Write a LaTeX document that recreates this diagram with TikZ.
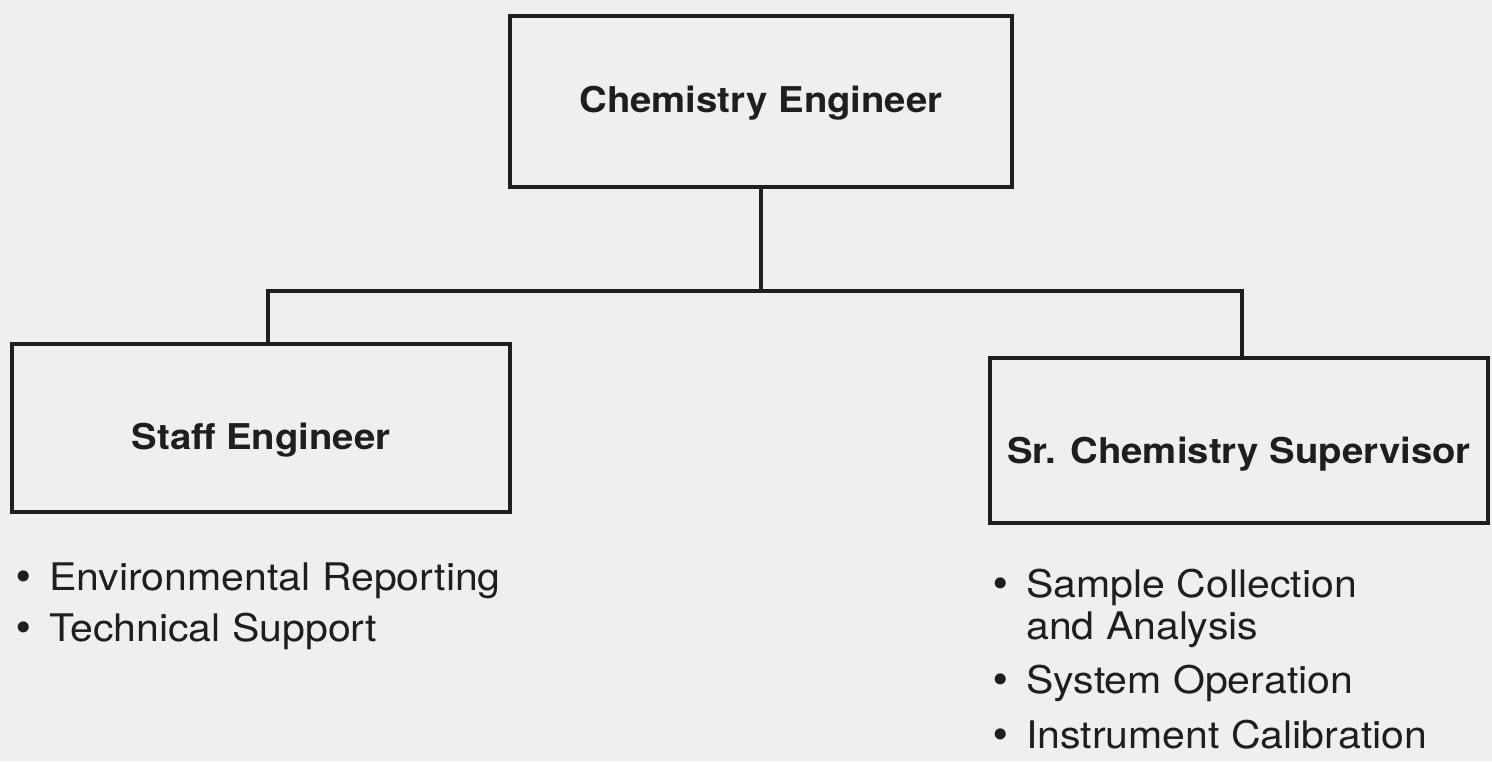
\documentclass[tikz,border=0pt]{standalone}
\usepackage{fontspec}
\setmainfont{TeX Gyre Heros}[FakeStretch=1.08]
\newfontfamily\dotfont{DejaVu Sans}
\begin{document}
\definecolor{paper}{HTML}{EFEFEF}
\definecolor{ink}{HTML}{1E1E1E}
\newcommand\bulletbox{\makebox[36pt][l]{\hspace{-1pt}{\dotfont •}}}
\begin{tikzpicture}[x=1pt,y=-1pt,
  orgbox/.style={draw=ink, line width=4.3pt, inner sep=0pt, text=ink,
    font=\fontsize{35.5}{40}\selectfont\bfseries, text depth=0pt},
  conn/.style={draw=ink, line width=4.3pt, line join=miter},
  duty/.style={anchor=base west, inner sep=0pt, text=ink,
    font=\fontsize{38}{42}\selectfont}]
  % page
  \fill[paper] (0,0) rectangle (1492,761);
  \useasboundingbox (0,0) rectangle (1492,761);

  % positions
  \node[orgbox, minimum width=502pt, minimum height=171pt, text height=22pt]
    (chem) at (761,101.5) {Chemistry Engineer};
  \node[orgbox, minimum width=498pt, minimum height=168pt, text height=43pt]
    (staff) at (261,428) {Staff Engineer};
  \node[orgbox, minimum width=498pt, minimum height=165pt, text height=45pt]
    (sup) at (1239,440.5) {Sr. Chemistry Supervisor};

  % reporting lines
  \coordinate (bus) at (761,291);
  \draw[conn] (chem.south) -- (chem.south |- bus);
  \draw[conn] ([xshift=7pt]staff.north) |- (bus) -| ([xshift=3pt]sup.north);

  % duties of the staff engineer
  \node[duty] (env) at (13,590) {\bulletbox Environmental Reporting};
  \node[duty] (tech) at (13,641) {\bulletbox Technical Support};

  % duties of the supervisor
  \node[duty] (sample) at (990,597) {\begin{tabular}[t]{@{}l@{}}
      \bulletbox Sample Collection\\
      \hspace{36pt}and Analysis\end{tabular}};
  \node[duty] (oper) at (990,693) {\bulletbox System Operation};
  \node[duty] (calib) at (990,748) {\bulletbox Instrument Calibration};
\end{tikzpicture}
\end{document}
